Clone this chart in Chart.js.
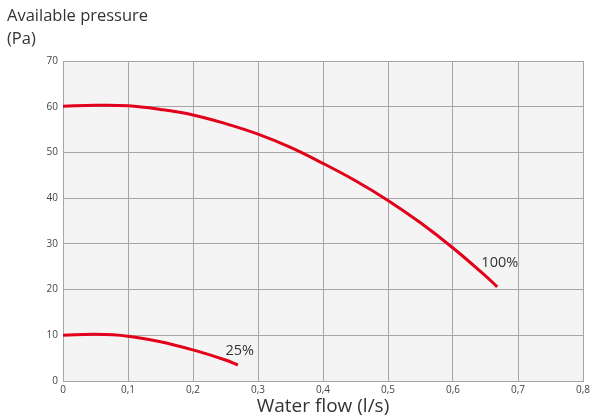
<!DOCTYPE html>
<html>
<head>
<meta charset="utf-8">
<script src="https://cdn.jsdelivr.net/npm/chart.js@4"></script>
<style>
  html, body { margin: 0; padding: 0; background: #fff; }
  #wrap { position: relative; width: 590px; height: 418px; }
  #ytitle {
    position: absolute; left: 7px; top: 3px;
    font-family: "Open Sans", sans-serif; font-size: 16.5px; line-height: 23px; color: #333;
  }
</style>
</head>
<body>
<div id="wrap">
  <div id="ytitle">Available pressure<br>(Pa)</div>
  <canvas id="pumpChart" width="590" height="418"></canvas>
</div>
<script>
// pump curves
const flow100 = [0, 0.05, 0.1, 0.15, 0.2, 0.25, 0.3, 0.35, 0.4, 0.45, 0.5, 0.55, 0.6, 0.65, 0.668];
const pressure100 = [60.1, 60.3, 60.2, 59.4, 58.2, 56.3, 54.0, 51.1, 47.6, 43.8, 39.5, 34.6, 29.1, 23.0, 20.6];
const flow25 = [0, 0.05, 0.1, 0.15, 0.2, 0.25, 0.269];
const pressure25 = [10.0, 10.2, 9.8, 8.6, 6.8, 4.6, 3.5];

const curveLabels = ["100%", "25%"];
const labelSpots = [[0.672, 25.8], [0.272, 6.6]];

const FONT = '"Open Sans", sans-serif';
const RED = "#e2001a";

function toPoints(xs, ys) {
  return xs.map((x, i) => ({ x, y: ys[i] }));
}

const plotBackground = {
  id: "plotBackground",
  beforeDraw(chart) {
    const { ctx, chartArea: a } = chart;
    ctx.save();
    ctx.fillStyle = "#f4f4f4";
    ctx.fillRect(a.left, a.top, a.right - a.left, a.bottom - a.top);
    ctx.restore();
  },
};

const curveText = {
  id: "curveText",
  afterDatasetsDraw(chart) {
    const { ctx, scales } = chart;
    ctx.save();
    ctx.font = "14.5px " + FONT;
    ctx.fillStyle = "#333";
    ctx.textAlign = "center";
    ctx.textBaseline = "middle";
    curveLabels.forEach((t, i) => {
      const [x, y] = labelSpots[i];
      ctx.fillText(t, scales.x.getPixelForValue(x), scales.y.getPixelForValue(y));
    });
    ctx.restore();
  },
};

new Chart(document.getElementById("pumpChart"), {
  type: "scatter",
  data: {
    datasets: [
      { data: toPoints(flow100, pressure100) },
      { data: toPoints(flow25, pressure25) },
    ],
  },
  options: {
    responsive: false,
    animation: false,
    showLine: true,
    elements: {
      point: { radius: 0 },
      line: { borderColor: RED, borderWidth: 3, tension: 0.4, borderCapStyle: "butt" },
    },
    layout: { padding: { top: 61, right: 0, left: 0, bottom: 0 } },
    plugins: { legend: { display: false }, tooltip: { enabled: false } },
    scales: {
      x: {
        type: "linear",
        min: 0,
        max: 0.8,
        grid: { color: "#a6a6a6", lineWidth: 1, drawTicks: false },
        border: { color: "#a6a6a6" },
        afterFit(scale) {
          scale.height = 37;
          scale.paddingRight = 7;
        },
        ticks: {
          stepSize: 0.1,
          padding: 3,
          maxRotation: 0,
          color: "#444",
          font: { family: FONT, size: 10 },
          callback: v => (Math.round(v * 10) / 10).toString().replace(".", ","),
        },
        title: {
          display: true,
          text: "Water flow (l/s)",
          color: "#333",
          font: { family: FONT, size: 19 },
          padding: { top: 0, bottom: 0 },
        },
      },
      y: {
        min: 0,
        max: 70,
        grid: { color: "#a6a6a6", lineWidth: 1, drawTicks: false },
        border: { color: "#a6a6a6" },
        afterFit(scale) { scale.width = 63; },
        ticks: {
          stepSize: 10,
          padding: 5,
          color: "#444",
          font: { family: FONT, size: 10 },
        },
      },
    },
  },
  plugins: [plotBackground, curveText],
});
</script>
</body>
</html>
